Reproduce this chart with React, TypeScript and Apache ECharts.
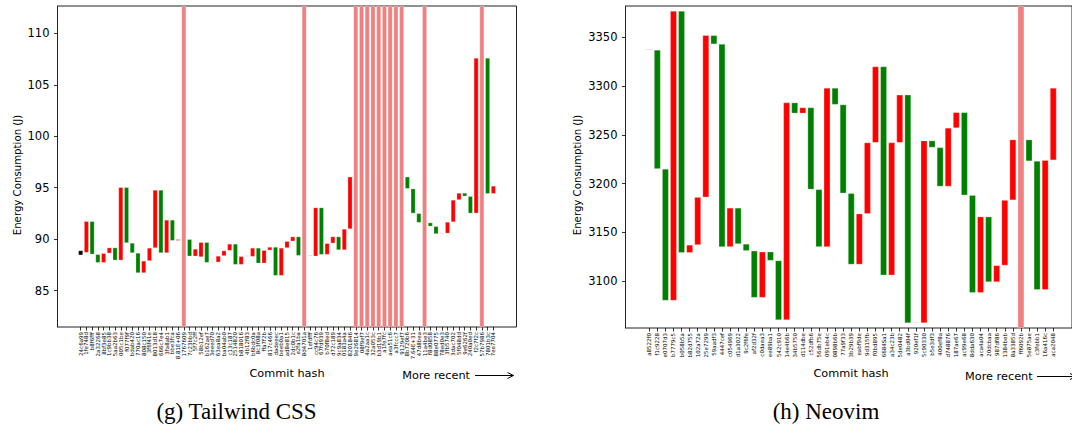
import React, { useEffect, useRef } from "react";
import * as echarts from "echarts";

// ---------- Data ----------
const tailwindCommits = [
  "24c6a99", "1fe748d", "b8f6fff", "2a32268", "8bf3e85", "1c9bb38", "5aa2b63", "005c1be", "f077f9f", "bdab420",
  "770ac16", "808c150", "3f6f41e", "8013d18", "666c7e4", "3fa8ab1", "bbe3fca", "8.81E+06", "1767609", "7c23bbd",
  "5f7c2ff", "58b12ef", "b162ae7", "3eeed70", "63ea8a2", "ba04ab0", "c13c187", "2514820", "b818016", "4b12f83",
  "b6bdc0a", "8c3f08a", "ffa7f2b", "817c466", "dadeeec", "beeb0a1", "ad8e815", "2dc0b1c", "e2fa1ba", "8d4701a",
  "1efdfff", "cc94c76", "67fd939", "b70f8ed", "d72c189", "9c9a834", "0183a4a", "8201846", "9e26814", "08f9ef7",
  "4a2aa1c", "32a053c", "b3d19b1", "a1fe7fc", "aea51c6", "a3fccc7", "9129ef7", "8b720b6", "7.64E+31", "47d8bea",
  "11a4be3", "f8d0858", "88e0775", "78ed0e3", "3fb5740", "3dac702", "5f048dd", "9e6262f", "240a0ed", "f2c7f2c",
  "57b7986", "7801b3c", "7ee7704",
];
// energy before (parent) and after each commit; null = failed measurement
const tailwindFrom = [
  88.45, 88.7, 91.74, 88.53, 87.72, 88.63, 89.18, 87.95, 95.04, 89.63,
  88.66, 86.72, 87.89, 89.15, 94.78, 88.66, 91.87, 89.86, null, 89.99,
  88.34, 88.27, 89.7, 87.72, 87.76, 88.37, 88.89, 89.54, 87.53, 88.34,
  88.31, 89.15, 87.66, 88.92, 89.24, 86.46, 89.15, 89.8, 90.25, null,
  88.4, 88.34, 93.07, 88.5, 89.6, 90.25, 88.95, 90.99, null, null,
  null, null, null, null, null, null, null, 96.06, 94.91, 92.51,
  null, 91.61, 91.25, 90.51, 90.57, 91.67, 93.81, 94.49, 94.17, 92.51,
  null, 107.6, 94.42,
];
const tailwindTo = [
  88.9, 91.74, 88.53, 87.72, 88.63, 89.18, 87.95, 95.04, 89.63, 88.66,
  86.72, 87.89, 89.15, 94.78, 88.66, 91.87, 89.86, 89.99, null, 88.34,
  89.05, 89.7, 87.72, 87.76, 88.37, 88.89, 89.54, 87.53, 88.34, 88.32,
  89.15, 87.66, 88.92, 89.24, 86.46, 89.15, 89.8, 90.25, 88.4, null,
  88.36, 93.07, 88.5, 89.6, 90.25, 88.95, 90.99, 96.06, null, null,
  null, null, null, null, null, null, null, 94.91, 92.51, 91.61,
  null, 91.25, 90.51, 90.55, 91.67, 93.81, 94.49, 94.17, 92.51, 107.6,
  null, 94.42, 95.17,
];
const tailwindYTicks = [85, 90, 95, 100, 105, 110];

const neovimCommits = [
  "a8522f0", "f1c9228", "e0707d3", "b7779c5", "b058b5a", "b82d755", "102a72a", "25e7299", "59aadf3", "4447cef",
  "c054969", "d1a3022", "9c2f6fe", "af2d32f", "c0daea3", "ee89ba1", "542c910", "14e4b6b", "34b5750", "d114dbe",
  "c52dfb6", "56db75e", "091eb4c", "0898b6b", "77a9f33", "3b29b39", "eabf9de", "9d315fb", "f0bd895", "6684Sa1",
  "a34c23b", "5de0482", "a3bd04f", "920ef1f", "5c90330", "b5e3df3", "400ef8a", "d748876", "187ae67", "ac99e68",
  "8dda630", "aca4a04", "20dcbaa", "987df86", "1384beb", "8a3385d", "ff6092b", "5e875ae", "c3febb1", "16a416c",
  "aca2048",
];
const neovimFrom = [
  3337, 3337, 3215, 3080, 3377, 3129, 3137, 3186, 3352, 3343,
  3135, 3175, 3138, 3131, 3083, 3130, 3121, 3060, 3283, 3272,
  3278, 3194, 3135, 3298, 3281, 3190, 3117, 3169, 3242, 3320,
  3106, 3242, 3291, 3057, 3057, 3244, 3237, 3197, 3257, 3273,
  3188, 3088, 3166, 3099, 3116, 3183, null, 3245, 3223, 3091,
  3224,
];
const neovimTo = [
  3337, 3215, 3080, 3377, 3129, 3137, 3186, 3352, 3343, 3135,
  3175, 3138, 3131, 3083, 3130, 3121, 3060, 3283, 3272, 3278,
  3194, 3135, 3298, 3281, 3190, 3117, 3169, 3242, 3320, 3106,
  3242, 3291, 3057, 3057, 3244, 3237, 3197, 3257, 3273, 3188,
  3088, 3166, 3099, 3116, 3183, 3245, null, 3223, 3091, 3224,
  3298,
];
const neovimYTicks = [3100, 3150, 3200, 3250, 3300, 3350];

// ---------- helpers ----------
const FONT = "DejaVu Sans";
const EDGE = "rgba(255,255,255,0.5)";

function barColor(i: number, d: number, tol: number) {
  if (i === 0) return Math.abs(d) < tol ? "#a8a8a8" : "#000000";
  if (Math.abs(d) < tol) return d >= 0 ? "#ffaaaa" : "#8cc78c";
  return d > 0 ? "#ff0000" : "#008000";
}

type Panel = {
  commits: string[];
  from: (number | null)[];
  to: (number | null)[];
  ticks: number[];
  yMin: number;
  yMax: number;
  flatTol: number;
  frame: { left: number; top: number; width: number; height: number };
  cats: { left: number; width: number };
};

function panelParts(p: Panel, gi: number, stack: string) {
  const grids = [
    { left: p.frame.left, top: p.frame.top, width: p.frame.width, height: p.frame.height, show: true, borderColor: "#222", borderWidth: 1, backgroundColor: "transparent" },
    { left: p.cats.left, top: p.frame.top, width: p.cats.width, height: p.frame.height, show: false },
  ];
  const xAxes = [
    { type: "value", gridIndex: gi, min: 0, max: 1, show: false },
    {
      type: "category", gridIndex: gi + 1, data: p.commits,
      axisLine: { show: false },
      axisTick: { show: true, alignWithLabel: true, interval: 0, length: 3.5, lineStyle: { color: "#000", width: 0.8 } },
      axisLabel: { interval: 0, rotate: 90, fontSize: 5.5, margin: 5, color: "#000", fontFamily: FONT },
      splitLine: { show: false },
    },
  ];
  const yAxes = [
    {
      type: "value", gridIndex: gi, min: p.yMin, max: p.yMax,
      axisLine: { show: true, lineStyle: { color: "#222", width: 1 } },
      axisTick: { show: true, length: 3.5, customValues: p.ticks, lineStyle: { color: "#000", width: 0.8 } },
      axisLabel: { customValues: p.ticks, fontSize: 11.5, color: "#000", fontFamily: FONT, margin: 8, formatter: (v: number) => String(v) },
      splitLine: { show: false },
    },
    { type: "value", gridIndex: gi + 1, min: p.yMin, max: p.yMax, show: false, splitLine: { show: false } },
  ];
  const base = p.from.map((f, i) => {
    const t = p.to[i];
    return f === null || t === null ? null : Math.min(f, t);
  });
  const delta = p.from.map((f, i) => {
    const t = p.to[i];
    if (f === null || t === null) return null;
    const d = t - f;
    return { value: Math.abs(d), itemStyle: { color: barColor(i, d, p.flatTol) } };
  });
  const band = p.from.map((f) => (f === null ? p.yMax : null));
  const series = [
    { type: "bar", xAxisIndex: gi + 1, yAxisIndex: gi + 1, stack, data: base, barWidth: "80%", barGap: "-100%", itemStyle: { color: "transparent" }, silent: true },
    { type: "bar", xAxisIndex: gi + 1, yAxisIndex: gi + 1, stack, data: delta, barWidth: "80%", barGap: "-100%", barMinHeight: 1, itemStyle: { borderColor: EDGE, borderWidth: 0.5 } },
    { type: "bar", xAxisIndex: gi + 1, yAxisIndex: gi + 1, data: band, barWidth: "80%", barGap: "-100%", itemStyle: { color: "#F08080", borderColor: EDGE, borderWidth: 0.5 } },
  ];
  return { grids, xAxes, yAxes, series };
}

function arrow(x1: number, x2: number, y: number) {
  return [
    { type: "line", shape: { x1, y1: y, x2, y2: y }, style: { stroke: "#000", lineWidth: 1 } },
    { type: "polyline", shape: { points: [[x2 - 6, y - 3], [x2, y], [x2 - 6, y + 3]] }, style: { stroke: "#000", lineWidth: 1, fill: "none" } },
  ];
}

export default function App() {
  const ref = useRef<HTMLDivElement>(null);
  useEffect(() => {
    if (!ref.current) return;
    const chart = echarts.init(ref.current, null, { renderer: "svg" });
    const left = panelParts({
      commits: tailwindCommits, from: tailwindFrom, to: tailwindTo, ticks: tailwindYTicks,
      yMin: 81.47, yMax: 112.65, flatTol: 0.06,
      frame: { left: 57.5, top: 6, width: 459, height: 321 },
      cats: { left: 77.8, width: 418.4 },
    }, 0, "tw");
    const right = panelParts({
      commits: neovimCommits, from: neovimFrom, to: neovimTo, ticks: neovimYTicks,
      yMin: 3051.8, yMax: 3382.1, flatTol: 0.5,
      frame: { left: 625.5, top: 6, width: 451.5, height: 322 },
      cats: { left: 645.2, width: 412.1 },
    }, 2, "nv");

    const txt = (text: string, x: number, y: number, size: number, opts: any = {}) => ({
      type: "text", x, y, rotation: opts.rotation || 0,
      style: { text, fontSize: size, fontFamily: opts.font || FONT, fill: "#000", textAlign: opts.align || "center", textVerticalAlign: "middle" },
    });

    chart.setOption({
      animation: false,
      textStyle: { fontFamily: FONT },
      grid: [...left.grids, ...right.grids],
      xAxis: [...left.xAxes, ...right.xAxes],
      yAxis: [...left.yAxes, ...right.yAxes],
      series: [...left.series, ...right.series],
      graphic: [
        txt("Energy Consumption (J)", 17, 175, 10.2, { rotation: Math.PI / 2 }),
        txt("Energy Consumption (J)", 577, 175, 10.2, { rotation: Math.PI / 2 }),
        txt("Commit hash", 287, 373, 11.3),
        txt("Commit hash", 851, 373, 11.3),
        txt("More recent", 402.3, 375.5, 11.3, { align: "left" }),
        txt("More recent", 965, 376.5, 11.3, { align: "left" }),
        ...arrow(475, 513.5, 375.5),
        ...arrow(1037, 1076, 376.5),
        txt("(g) Tailwind CSS", 236.5, 411, 23, { font: "Liberation Serif" }),
        txt("(h) Neovim", 826, 411, 23, { font: "Liberation Serif" }),
      ],
    });
    return () => chart.dispose();
  }, []);
  return <div ref={ref} style={{ position: "absolute", left: 0, top: 0, width: 1072, height: 438 }} />;
}
